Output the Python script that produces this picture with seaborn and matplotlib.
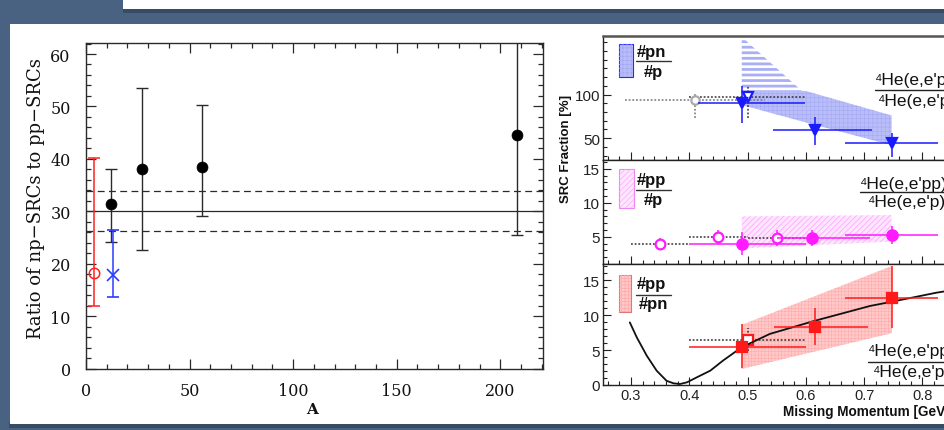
import numpy as np
import matplotlib
matplotlib.use("Agg")
import matplotlib.pyplot as plt
from matplotlib.patches import Rectangle
from matplotlib.lines import Line2D
from matplotlib.ticker import MultipleLocator, FixedLocator, NullFormatter
import seaborn as sns

sns.set_theme(style="white")
plt.rcParams["font.family"] = ["DejaVu Sans"]
plt.rcParams["hatch.linewidth"] = 1.0

W, H = 944, 431

# ---------------- left: np/pp SRC ratio vs mass number A
A_nuclei = [12, 27, 56, 208]
ratio_nuclei = [31.3, 38.1, 38.4, 44.6]
ratio_nuclei_lo = [24.2, 22.7, 29.0, 25.5]
ratio_nuclei_hi = [38.1, 53.5, 50.2, 75.0]

A_he = [4]
ratio_he = [18.2]
ratio_he_lo = [11.9]
ratio_he_hi = [40.1]

A_c_prev = [13]
ratio_c_prev = [17.9]
ratio_c_prev_lo = [13.6]
ratio_c_prev_hi = [26.4]

avg_ratio = 30.0
avg_ratio_lo = 26.2
avg_ratio_hi = 33.9

# ---------------- right: 4He SRC fractions vs missing momentum
# #pn / #p
pn_x = [0.49, 0.616, 0.747]
pn_xlo = [0.415, 0.544, 0.667]
pn_xhi = [0.598, 0.714, 0.827]
pn_y = [90.4, 59.6, 44.3]
pn_ylo = [67.3, 42.3, 28.8]
pn_yhi = [109.6, 74.3, 55.8]
pn_prev_x = [0.41, 0.50]
pn_prev_xlo = [0.29, 0.40]
pn_prev_xhi = [0.53, 0.60]
pn_prev_y = [93.4, 97.0]
pn_prev_ylo = [73.0, 73.0]
pn_prev_yhi = [102.0, 110.0]
pn_band_x = [0.49, 0.60, 0.747]
pn_band_lo = [88.0, 68.0, 42.0]
pn_band_hi = [104.0, 104.0, 76.0]
pn_sys_x = [0.49, 0.60]
pn_sys_lo = [104.0, 104.0]
pn_sys_hi = [166.0, 100.0]

# #pp / #p
pp_x = [0.49, 0.61, 0.747]
pp_xlo = [0.40, 0.55, 0.667]
pp_xhi = [0.60, 0.71, 0.827]
pp_y = [4.0, 4.85, 5.3]
pp_ylo = [2.35, 3.7, 4.0]
pp_yhi = [5.65, 6.0, 6.6]
pp_prev_x = [0.35, 0.45, 0.55]
pp_prev_xlo = [0.30, 0.40, 0.50]
pp_prev_xhi = [0.40, 0.50, 0.60]
pp_prev_y = [3.98, 4.95, 4.8]
pp_prev_ylo = [3.2, 3.95, 3.6]
pp_prev_yhi = [4.8, 5.95, 6.0]
pp_band_x = [0.49, 0.747]
pp_band_lo = [3.3, 4.3]
pp_band_hi = [8.0, 8.2]

# #pp / #pn
ppn_x = [0.49, 0.616, 0.747]
ppn_xlo = [0.40, 0.545, 0.667]
ppn_xhi = [0.60, 0.707, 0.827]
ppn_y = [5.5, 8.3, 12.5]
ppn_ylo = [2.5, 5.7, 8.1]
ppn_yhi = [8.7, 10.95, 17.0]
ppn_prev_x = [0.50]
ppn_prev_xlo = [0.40]
ppn_prev_xhi = [0.60]
ppn_prev_y = [6.5]
ppn_prev_ylo = [4.8]
ppn_prev_yhi = [8.2]
ppn_band_x = [0.49, 0.747]
ppn_band_lo = [2.3, 7.4]
ppn_band_hi = [8.6, 17.0]
calc_x = [0.298, 0.310, 0.327, 0.344, 0.361, 0.373, 0.384, 0.396, 0.413, 0.436,
          0.458, 0.49, 0.538, 0.616, 0.71, 0.747, 0.824, 0.90]
calc_y = [8.95, 6.8, 4.2, 2.05, 0.6, 0.24, 0.14, 0.38, 1.1, 2.05,
          3.5, 5.4, 7.3, 9.2, 11.3, 11.9, 13.2, 14.2]

fig = plt.figure(figsize=(W / 100, H / 100), dpi=100)
fig.patch.set_facecolor("#4a6281")


def px_rect(x0, y0, x1, y1, **kw):
    """Rectangle given in pixel coordinates (origin top-left)."""
    r = Rectangle((x0 / W, 1 - y1 / H), (x1 - x0) / W, (y1 - y0) / H,
                  transform=fig.transFigure, **kw)
    fig.patches.append(r)
    return r


def px_text(x, y, s, **kw):
    return fig.text(x / W, 1 - y / H, s, **kw)


def px_line(x0, x1, y, **kw):
    fig.add_artist(Line2D([x0 / W, x1 / W], [1 - y / H, 1 - y / H],
                          transform=fig.transFigure, **kw))


# slide background panels
px_rect(123, 8, 950, 14, facecolor="#26364a", edgecolor="none", alpha=0.5, zorder=-3)
px_rect(123, -5, 950, 10, facecolor="white", edgecolor="none", zorder=-2)
px_rect(9, 423, 950, 429, facecolor="#26364a", edgecolor="none", alpha=0.5, zorder=-3)
px_rect(10, 25, 950, 425, facecolor="white", edgecolor="none", zorder=-2)

# ================= left panel =================
serif = ["DejaVu Serif"]
ink = "#2a2a2a"
axL = fig.add_axes([86 / W, 1 - 369.5 / H, (543 - 86) / W, (369.5 - 44) / H])
axL.set_facecolor("white")
axL.set_xlim(0, 220.6)
axL.set_ylim(0, 62.1)

axL.axhline(avg_ratio, color=ink, lw=0.9, zorder=2)
for v in (avg_ratio_lo, avg_ratio_hi):
    axL.axhline(v, color=ink, lw=0.9, ls=(0, (5.5, 3.5)), zorder=2)


def err_asym(v, lo, hi):
    return [np.subtract(v, lo), np.subtract(hi, v)]


axL.errorbar(A_nuclei, ratio_nuclei, yerr=err_asym(ratio_nuclei, ratio_nuclei_lo, ratio_nuclei_hi),
             fmt="none", ecolor=ink, elinewidth=1.0, capsize=4.2, capthick=1.0, zorder=3)
sns.scatterplot(x=A_nuclei, y=ratio_nuclei, ax=axL, color="black", s=62, edgecolor="black",
                linewidth=0.5, zorder=4, legend=False)
axL.errorbar(A_he, ratio_he, yerr=err_asym(ratio_he, ratio_he_lo, ratio_he_hi),
             fmt="o", ms=7.5, mfc="none", mec="#ff2020", mew=1.1, ecolor="#ff2020",
             elinewidth=1.1, capsize=4.2, capthick=1.1, zorder=4)
axL.errorbar(A_c_prev, ratio_c_prev, yerr=err_asym(ratio_c_prev, ratio_c_prev_lo, ratio_c_prev_hi),
             fmt="x", ms=8, mec="#2a3cff", mew=1.2, ecolor="#2a3cff",
             elinewidth=1.1, capsize=4.2, capthick=1.1, zorder=4)

axL.xaxis.set_major_locator(MultipleLocator(50))
axL.xaxis.set_minor_locator(MultipleLocator(10))
axL.yaxis.set_major_locator(MultipleLocator(10))
axL.yaxis.set_minor_locator(MultipleLocator(2))
axL.tick_params(which="both", direction="in", top=True, right=True, left=True, bottom=True,
                color=ink, width=0.9)
axL.tick_params(which="major", length=7)
axL.tick_params(which="minor", length=3.5)
axL.tick_params(axis="x", which="major", pad=10, labelsize=11.5, labelcolor="#111")
axL.tick_params(axis="y", which="major", pad=11, labelsize=11.5, labelcolor="#111")
for lab in axL.get_xticklabels() + axL.get_yticklabels():
    lab.set_family(serif)
for s in axL.spines.values():
    s.set_color(ink)
    s.set_linewidth(1.0)
axL.set_xlabel("")
axL.set_ylabel("")
px_text(36, 199, "Ratio of np\u2212SRCs to pp\u2212SRCs", rotation=90, ha="center", va="center",
        fontsize=13, family=serif, color="#111")
px_text(312, 410, "A", ha="center", va="center", fontsize=11, family=serif,
        color="#111", weight="bold")

# ================= right panels =================
sans = ["Liberation Sans", "DejaVu Sans"]
x0_px, xr = 603.0, 0.252
x_right = 0.90
px_per = 583.0
x1_px = 631 + (x_right - 0.3) * px_per
ax_left = x0_px / W
ax_w = (x1_px - x0_px) / W


def mk_ax(top, bot, ylim):
    ax = fig.add_axes([ax_left, 1 - bot / H, ax_w, (bot - top) / H])
    ax.set_facecolor("white")
    ax.set_xlim(xr, x_right)
    ax.set_ylim(*ylim)
    ax.xaxis.set_major_locator(MultipleLocator(0.1))
    ax.xaxis.set_minor_locator(MultipleLocator(0.02))
    ax.tick_params(which="both", direction="in", left=True, bottom=True, top=False, right=False,
                   color="#222", width=0.8, labelsize=11, labelcolor="#222")
    ax.tick_params(which="major", length=6)
    ax.tick_params(which="minor", length=3)
    ax.tick_params(axis="y", pad=2)
    ax.tick_params(axis="x", pad=2, labelsize=10.5)
    for s in ax.spines.values():
        s.set_color("#222")
        s.set_linewidth(1.0)
    return ax


ax1 = mk_ax(37, 161, (25, 167))
ax2 = mk_ax(161, 265, (1.0, 16.3))
ax3 = mk_ax(265, 386, (0, 17.3))
ax1.spines["top"].set_linewidth(1.8)
ax1.spines["top"].set_color("#555")

ax1.yaxis.set_major_locator(FixedLocator([50, 100]))
ax1.yaxis.set_minor_locator(MultipleLocator(10))
ax2.yaxis.set_major_locator(MultipleLocator(5))
ax2.yaxis.set_minor_locator(MultipleLocator(1))
ax3.yaxis.set_major_locator(MultipleLocator(5))
ax3.yaxis.set_minor_locator(MultipleLocator(1))
for ax in (ax1, ax2):
    ax.xaxis.set_major_formatter(NullFormatter())
for ax in (ax1, ax2, ax3):
    for lab in ax.get_xticklabels() + ax.get_yticklabels():
        lab.set_family(sans)


def set_hlw(coll, lw):
    try:
        coll.set_hatch_linewidth(lw)
    except Exception:
        pass


# bands
b = ax1.fill_between(pn_sys_x, pn_sys_lo, pn_sys_hi, facecolor="none", edgecolor="#a9aef7",
                     hatch="---", linewidth=0, zorder=1)
set_hlw(b, 2.0)
b = ax1.fill_between(pn_band_x, pn_band_lo, pn_band_hi, facecolor="#b9bdf8", edgecolor="#a4a9f5",
                     hatch="++++", linewidth=0, zorder=1)
set_hlw(b, 0.4)
b = ax2.fill_between(pp_band_x, pp_band_lo, pp_band_hi, facecolor="#ffe6ff", edgecolor="#ffa8ff",
                     hatch="//////", linewidth=0, zorder=1)
set_hlw(b, 0.6)
b = ax3.fill_between(ppn_band_x, ppn_band_lo, ppn_band_hi, facecolor="#ffc9c9", edgecolor="#ffaaaa",
                     hatch="+++++", linewidth=0, zorder=1)
set_hlw(b, 0.4)


def draw_points(ax, x, xlo, xhi, y, ylo, yhi, color, marker, ms, filled=True,
                ecolor=None, dotted=False, z=5):
    eb = ax.errorbar(x, y, xerr=err_asym(x, xlo, xhi), yerr=err_asym(y, ylo, yhi),
                     fmt=marker, ms=ms, mfc=color if filled else "white", mec=color,
                     mew=1.6, ecolor=ecolor or color, elinewidth=1.1, capsize=0, zorder=z)
    if dotted:
        for lc in eb[2]:
            lc.set_linestyle((0, (1.2, 1.2)))
    return eb


# #pn / #p
draw_points(ax1, pn_prev_x[:1], pn_prev_xlo[:1], pn_prev_xhi[:1], pn_prev_y[:1],
            pn_prev_ylo[:1], pn_prev_yhi[:1], "#aaaaaa", "o", 6, filled=False,
            ecolor="#777777", dotted=True, z=3)
draw_points(ax1, pn_prev_x[1:], pn_prev_xlo[1:], pn_prev_xhi[1:], pn_prev_y[1:],
            pn_prev_ylo[1:], pn_prev_yhi[1:], "#1a1aff", "v", 7, filled=False,
            ecolor="#333333", dotted=True, z=3)
draw_points(ax1, pn_x, pn_xlo, pn_xhi, pn_y, pn_ylo, pn_yhi, "#1a1aff", "v", 7)

# #pp / #p
draw_points(ax2, pp_prev_x, pp_prev_xlo, pp_prev_xhi, pp_prev_y, pp_prev_ylo, pp_prev_yhi,
            "#ff1aff", "o", 7, filled=False, ecolor="#333333", dotted=True, z=3)
for lc in ax2.containers[-1][2][1:]:
    lc.set_color("#ff1aff")
    lc.set_linestyle("-")
draw_points(ax2, pp_x, pp_xlo, pp_xhi, pp_y, pp_ylo, pp_yhi, "#ff1aff", "o", 7.5)

# #pp / #pn
sns.lineplot(x=calc_x, y=calc_y, ax=ax3, color="#111111", lw=1.3, sort=False, zorder=4)
draw_points(ax3, ppn_prev_x, ppn_prev_xlo, ppn_prev_xhi, ppn_prev_y, ppn_prev_ylo, ppn_prev_yhi,
            "#ff1a1a", "s", 6.5, filled=False, ecolor="#333333", dotted=True, z=3)
draw_points(ax3, ppn_x, ppn_xlo, ppn_xhi, ppn_y, ppn_ylo, ppn_yhi, "#ff1a1a", "s", 7)
ax3.set_xlabel("")
ax3.set_ylabel("")

# axis titles
px_text(566, 149, "SRC Fraction [%]", rotation=90, ha="center", va="center",
        fontsize=9.5, weight="bold", family=sans, color="#111")
px_text(783, 412, "Missing Momentum [GeV/c]", ha="left", va="center",
        fontsize=9.8, weight="bold", family=sans, color="#111")

# legend boxes
legend_rows = [
    (45, 78.3, 633.3, "#b9bdf8", "#2a2aff", "++++", "#a4a9f5", "#pn", "#p", 52, 62, 72),
    (170, 209.3, 634.0, "#ffe6ff", "#ee88ee", "//////", "#ffa8ff", "#pp", "#p", 181, 190.5, 201),
    (276, 313.3, 630.5, "#ffc9c9", "#dd7777", "+++++", "#ffaaaa", "#pp", "#pn", 285, 295.5, 305),
]
for y0, y1, x1, fc, ec, hat, hc, num, den, yn, yl, yd in legend_rows:
    px_rect(619.3, y0, x1, y1, facecolor=fc, edgecolor=ec, linewidth=0.8, zorder=6)
    r2 = px_rect(619.3, y0, x1, y1, facecolor="none", edgecolor=hc, hatch=hat,
                 linewidth=0, zorder=6)
    set_hlw(r2, 0.5)
    px_text(637, yn, num, ha="left", va="center", fontsize=12, weight="bold",
            family=sans, color="#111", zorder=7)
    px_line(636, 671, yl, color="#333", lw=1.0, zorder=7)
    px_text(653.5, yd, den, ha="center", va="center", fontsize=12, weight="bold",
            family=sans, color="#111", zorder=7)

# reaction ratio labels
ratio_rows = [
    (875, 878, 80, 90.7, 101.7, "\u2074He(e,e'pn)", "\u2074He(e,e'p)"),
    (860, 868, 185, 193.3, 202.7, "\u2074He(e,e'pp)", "\u2074He(e,e'p)"),
    (868, 873, 351.7, 363.3, 372.7, "\u2074He(e,e'pp)", "\u2074He(e,e'pn)"),
]
for xn, xd, yn, yl, yd, num, den in ratio_rows:
    px_text(xn, yn, num, ha="left", va="center", fontsize=12.5, family=sans, color="#111")
    px_line(xn, 960, yl, color="#222", lw=1.0)
    px_text(xd, yd, den, ha="left", va="center", fontsize=12.5, family=sans, color="#111")

fig.savefig("out.png", dpi=100, facecolor=fig.get_facecolor())
